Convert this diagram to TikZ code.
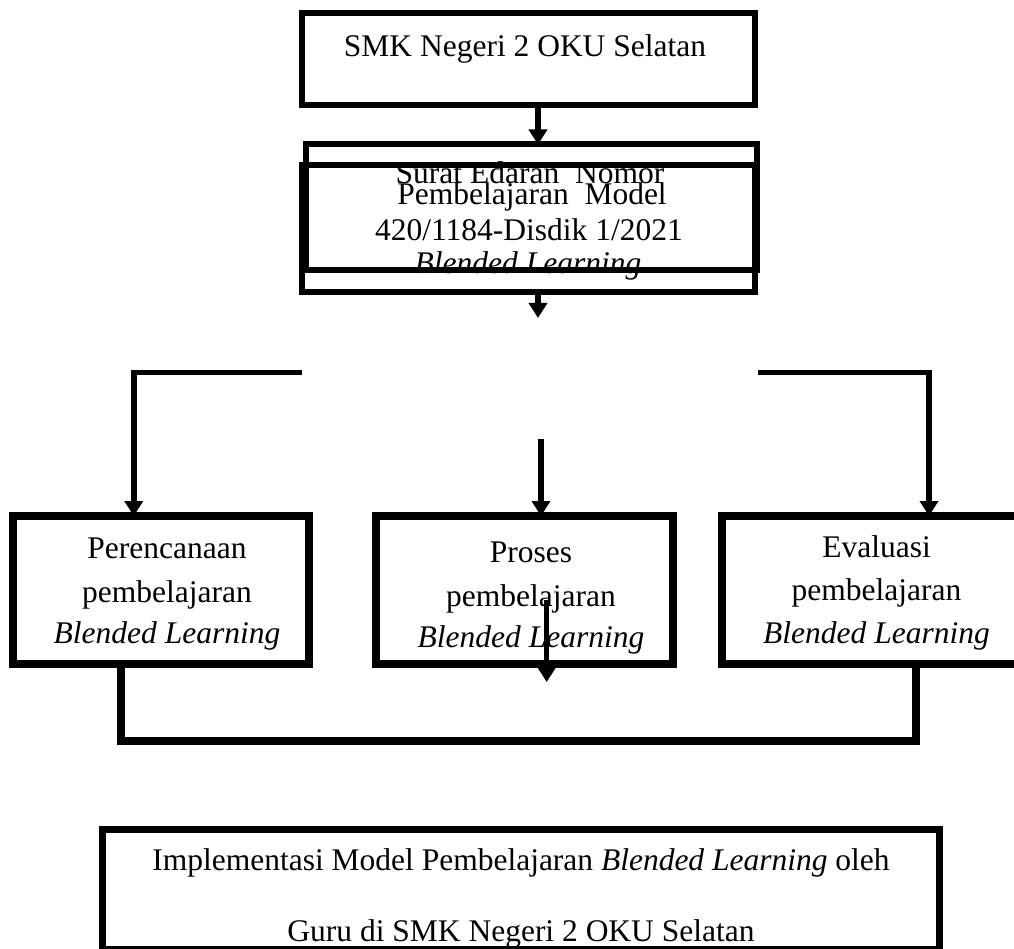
\documentclass[tikz,border=0pt]{standalone}
\usepackage{fontspec}
\setmainfont{Liberation Serif}
\usetikzlibrary{arrows.meta}
\begin{document}
\begin{tikzpicture}[x=1pt,y=-1pt,
  box/.style={draw=black,rectangle,inner sep=0pt,outer sep=0pt},
  thinbox/.style={box,line width=6pt},
  thickbox/.style={box,line width=8pt},
  txt/.style={anchor=base,inner sep=0pt,outer sep=0pt,font=\fontsize{31.5}{37}\selectfont},
  arr/.style={draw=black,line width=5.5pt,-{Triangle[length=15pt,width=18pt]}},
  conn/.style={draw=black,line width=8pt}]
\useasboundingbox (0,0) rectangle (1014,949);
\clip (0,0) rectangle (1014,949);
% texts
\node[txt] (t0) at (525,57) {SMK Negeri 2 OKU Selatan};
\node[txt] (ta1) at (530,184) {Surat Edaran\ \ Nomor};
\node[txt] (tb1) at (532,205) {Pembelajaran\ \ Model};
\node[txt] (ta2) at (529,241) {420/1184-Disdik 1/2021};
\node[txt] (tb2) at (528,274) {\itshape Blended Learning};
\node[txt] (tl1) at (167,558) {Perencanaan};
\node[txt] (tl2) at (167,602) {pembelajaran};
\node[txt] (tl3) at (167,643) {\itshape Blended Learning};
\node[txt] (tm1) at (531,562) {Proses};
\node[txt] (tm2) at (531,606) {pembelajaran};
\node[txt] (tm3) at (531,647) {\itshape Blended Learning};
\node[txt] (tr1) at (876.5,557) {Evaluasi};
\node[txt] (tr2) at (876.5,600) {pembelajaran};
\node[txt] (tr3) at (876.5,643) {\itshape Blended Learning};
\node[txt] (tf1) at (521,870) {Implementasi Model Pembelajaran \textit{Blended Learning} oleh};
\node[txt] (tf2) at (521,941) {Guru di SMK Negeri 2 OKU Selatan};
% boxes
\node[thinbox,minimum width=453pt,minimum height=92pt] (top) at (528.5,59) {};
\node[thinbox,minimum width=451.5pt,minimum height=125.5pt] (boxA) at (531.25,207.25) {};
\node[thinbox,minimum width=452.7pt,minimum height=126.2pt] (boxB) at (528.35,228.6) {};
\node[thickbox,minimum width=296.5pt,minimum height=148pt] (lbox) at (160.75,590) {};
\node[thickbox,minimum width=296.5pt,minimum height=148pt] (mbox) at (524.25,590) {};
\node[thickbox,minimum width=296.5pt,minimum height=148pt] (rbox) at (870,590) {};
\node[box,line width=7pt,minimum width=837pt,minimum height=120pt] (fbox) at (521,889.5) {};
% coordinates
\coordinate (bend) at (538,318);
\coordinate (L0) at (302,372.5);
\coordinate (R0) at (758,372.5);
\coordinate (M0) at (541,439);
\coordinate (P0) at (546.7,600);
\coordinate (P1) at (546.7,682);
\coordinate (J) at (520,741);
% connectors
\draw[arr] ([xshift=9.5pt]top.south) -- ([xshift=6.75pt]boxA.north);
\draw[arr] ([xshift=9.65pt]boxB.south) -- (bend);
\draw[arr] (L0) -| ([xshift=-27pt]lbox.north);
\draw[arr] (R0) -| ([xshift=59pt]rbox.north);
\draw[arr] (M0) -- ([xshift=16.75pt]mbox.north);
\draw[arr] (P0) -- (P1);
\draw[conn] ([xshift=-39.75pt]lbox.south) |- (J) -| ([xshift=46pt]rbox.south);
\end{tikzpicture}
\end{document}
